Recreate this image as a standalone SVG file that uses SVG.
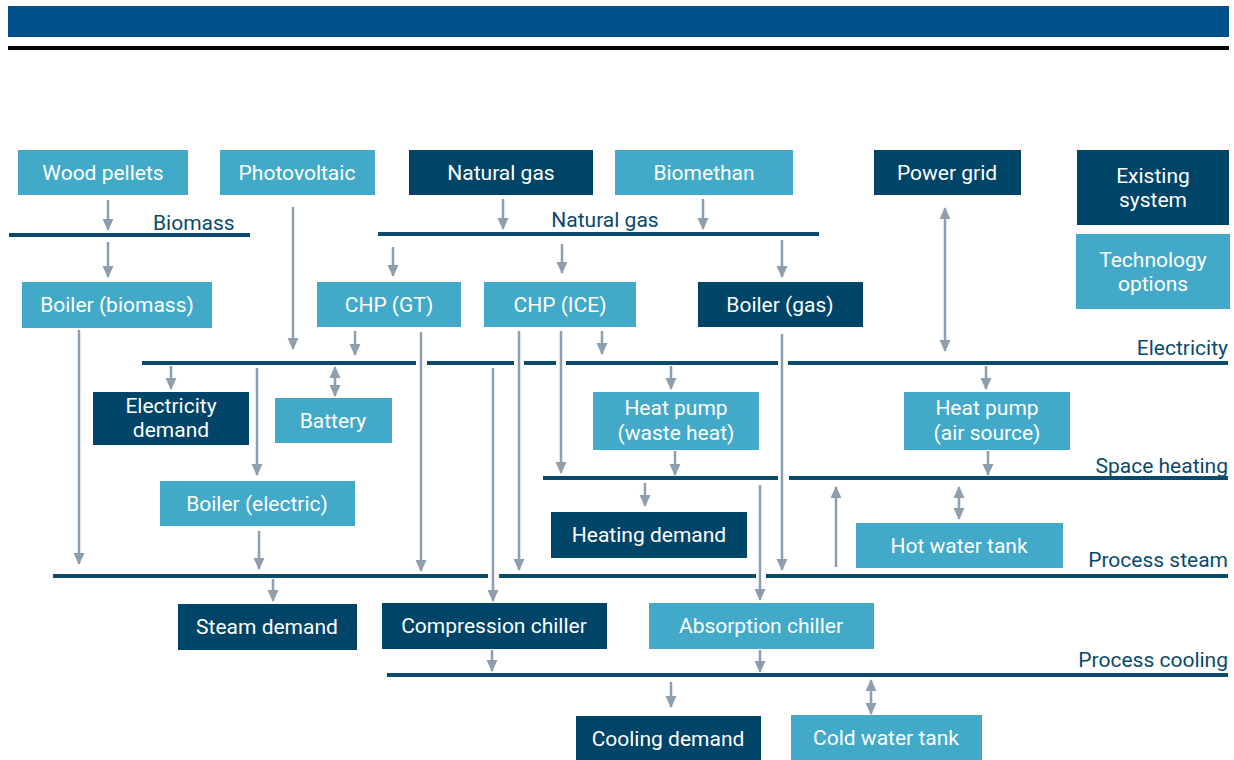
<svg xmlns="http://www.w3.org/2000/svg" width="1234" height="760" viewBox="0 0 1234 760">
<style>
.dk{fill:#004468}
.lt{fill:#42a9c9}
.t{font-family:Roboto,"Liberation Sans",sans-serif;font-size:21px;fill:#ffffff;text-anchor:middle}
.bl{font-family:Roboto,"Liberation Sans",sans-serif;font-size:21px;fill:#0a4a6b}
.bus{stroke:#0a4a6b;stroke-width:4;fill:none}
.a{stroke:#8d9eae;stroke-width:2.5;fill:none;marker-end:url(#ah)}
.d{stroke:#8d9eae;stroke-width:2.5;fill:none;marker-end:url(#ah);marker-start:url(#ahs)}
</style>
<defs>
<marker id="ah" markerUnits="userSpaceOnUse" markerWidth="12" markerHeight="12" viewBox="0 0 12 12" refX="11" refY="6" orient="auto">
<path d="M0,0.5 L12,6 L0,11.5 Z" fill="#8d9eae"/>
</marker>
<marker id="ahs" markerUnits="userSpaceOnUse" markerWidth="12" markerHeight="12" viewBox="0 0 12 12" refX="1" refY="6" orient="auto">
<path d="M12,0.5 L0,6 L12,11.5 Z" fill="#8d9eae"/>
</marker>
</defs>
<rect x="8" y="6" width="1221" height="31" fill="#00508a"/>
<rect x="8" y="46" width="1221" height="4" fill="#000000"/>

<g id="buses">
<line class="bus" x1="9" y1="235" x2="250" y2="235"/>
<text class="bl" x="153" y="230">Biomass</text>
<line class="bus" x1="378" y1="234" x2="819" y2="234"/>
<text class="bl" x="605" y="227" text-anchor="middle">Natural gas</text>
<path class="bus" d="M142,363H416M427,363H514M524,363H556M566,363H778M788,363H1228"/>
<text class="bl" x="1228" y="355" text-anchor="end">Electricity</text>
<path class="bus" d="M543,478H778M789,478H1228"/>
<text class="bl" x="1228" y="473" text-anchor="end">Space heating</text>
<path class="bus" d="M53,576H488M499,576H756M766,576H1228"/>
<text class="bl" x="1228" y="567" text-anchor="end">Process steam</text>
<line class="bus" x1="387" y1="675" x2="1228" y2="675"/>
<text class="bl" x="1228" y="667" text-anchor="end">Process cooling</text>
</g>

<g id="connectors">
<line class="a" x1="108" y1="200" x2="108" y2="230"/>
<line class="a" x1="108" y1="242" x2="108" y2="277"/>
<line class="a" x1="293" y1="207" x2="293" y2="349"/>
<line class="a" x1="503" y1="199" x2="503" y2="229"/>
<line class="a" x1="703" y1="199" x2="703" y2="229"/>
<line class="a" x1="393" y1="247" x2="393" y2="276"/>
<line class="a" x1="562" y1="244" x2="562" y2="273"/>
<line class="a" x1="782" y1="240" x2="782" y2="277"/>
<line class="d" x1="945" y1="208" x2="945" y2="351"/>
<line class="a" x1="355" y1="331" x2="355" y2="355"/>
<line class="a" x1="421" y1="332" x2="421" y2="571"/>
<line class="a" x1="602" y1="331" x2="602" y2="354"/>
<line class="a" x1="519" y1="331" x2="519" y2="570"/>
<line class="a" x1="561" y1="331" x2="561" y2="473"/>
<line class="a" x1="782" y1="334" x2="782" y2="570"/>
<line class="a" x1="79" y1="330" x2="79" y2="564"/>
<line class="a" x1="171" y1="366" x2="171" y2="389"/>
<line class="a" x1="257" y1="368" x2="257" y2="475"/>
<line class="d" x1="335" y1="367" x2="335" y2="396"/>
<line class="a" x1="259" y1="531" x2="259" y2="569"/>
<line class="a" x1="273" y1="579" x2="273" y2="601"/>
<line class="a" x1="493" y1="368" x2="493" y2="601"/>
<line class="a" x1="671" y1="366" x2="671" y2="389"/>
<line class="a" x1="675" y1="451" x2="675" y2="475"/>
<line class="a" x1="645" y1="483" x2="645" y2="506"/>
<line class="a" x1="760" y1="485" x2="760" y2="600"/>
<line class="a" x1="836" y1="567" x2="836" y2="487"/>
<line class="a" x1="986" y1="366" x2="986" y2="389"/>
<line class="a" x1="988" y1="451" x2="988" y2="475"/>
<line class="d" x1="959" y1="487" x2="959" y2="519"/>
<line class="a" x1="492" y1="650" x2="492" y2="671"/>
<line class="a" x1="760" y1="650" x2="760" y2="672"/>
<line class="a" x1="671" y1="682" x2="671" y2="707"/>
<line class="d" x1="871" y1="680" x2="871" y2="714"/>
</g>

<g id="wood-pellets"><rect class="lt" x="18" y="150" width="170" height="45"/><text class="t" x="103" y="180">Wood pellets</text></g>
<g id="photovoltaic"><rect class="lt" x="220" y="150" width="155" height="45"/><text class="t" x="297" y="180">Photovoltaic</text></g>
<g id="natural-gas"><rect class="dk" x="409" y="150" width="184" height="45"/><text class="t" x="501" y="180">Natural gas</text></g>
<g id="biomethan"><rect class="lt" x="615" y="150" width="178" height="45"/><text class="t" x="704" y="180">Biomethan</text></g>
<g id="power-grid"><rect class="dk" x="874" y="150" width="147" height="45"/><text class="t" x="947" y="180">Power grid</text></g>
<g id="existing-system"><rect class="dk" x="1077" y="150" width="152" height="75"/><text class="t" x="1153" y="183">Existing</text><text class="t" x="1153" y="207">system</text></g>
<g id="technology-options"><rect class="lt" x="1076" y="234" width="154" height="75"/><text class="t" x="1153" y="267">Technology</text><text class="t" x="1153" y="291">options</text></g>
<g id="boiler-biomass"><rect class="lt" x="22" y="282" width="190" height="46"/><text class="t" x="117" y="312">Boiler (biomass)</text></g>
<g id="chp-gt"><rect class="lt" x="317" y="282" width="144" height="45"/><text class="t" x="389" y="312">CHP (GT)</text></g>
<g id="chp-ice"><rect class="lt" x="484" y="282" width="152" height="45"/><text class="t" x="560" y="312">CHP (ICE)</text></g>
<g id="boiler-gas"><rect class="dk" x="698" y="282" width="165" height="45"/><text class="t" x="780" y="312">Boiler (gas)</text></g>
<g id="electricity-demand"><rect class="dk" x="93" y="392" width="156" height="53"/><text class="t" x="171" y="413">Electricity</text><text class="t" x="171" y="437">demand</text></g>
<g id="battery"><rect class="lt" x="275" y="398" width="117" height="45"/><text class="t" x="333" y="428">Battery</text></g>
<g id="heat-pump-waste"><rect class="lt" x="593" y="392" width="166" height="58"/><text class="t" x="676" y="415">Heat pump</text><text class="t" x="676" y="440">(waste heat)</text></g>
<g id="heat-pump-air"><rect class="lt" x="904" y="392" width="166" height="58"/><text class="t" x="987" y="415">Heat pump</text><text class="t" x="987" y="440">(air source)</text></g>
<g id="boiler-electric"><rect class="lt" x="160" y="481" width="195" height="45"/><text class="t" x="257" y="511">Boiler (electric)</text></g>
<g id="heating-demand"><rect class="dk" x="551" y="512" width="196" height="46"/><text class="t" x="649" y="542">Heating demand</text></g>
<g id="hot-water-tank"><rect class="lt" x="856" y="523" width="207" height="45"/><text class="t" x="959" y="553">Hot water tank</text></g>
<g id="steam-demand"><rect class="dk" x="178" y="604" width="179" height="46"/><text class="t" x="267" y="634">Steam demand</text></g>
<g id="compression-chiller"><rect class="dk" x="382" y="603" width="225" height="46"/><text class="t" x="494" y="633">Compression chiller</text></g>
<g id="absorption-chiller"><rect class="lt" x="649" y="603" width="225" height="46"/><text class="t" x="761" y="633">Absorption chiller</text></g>
<g id="cooling-demand"><rect class="dk" x="576" y="716" width="185" height="44"/><text class="t" x="668" y="746">Cooling demand</text></g>
<g id="cold-water-tank"><rect class="lt" x="791" y="715" width="191" height="45"/><text class="t" x="886" y="745">Cold water tank</text></g>
</svg>
